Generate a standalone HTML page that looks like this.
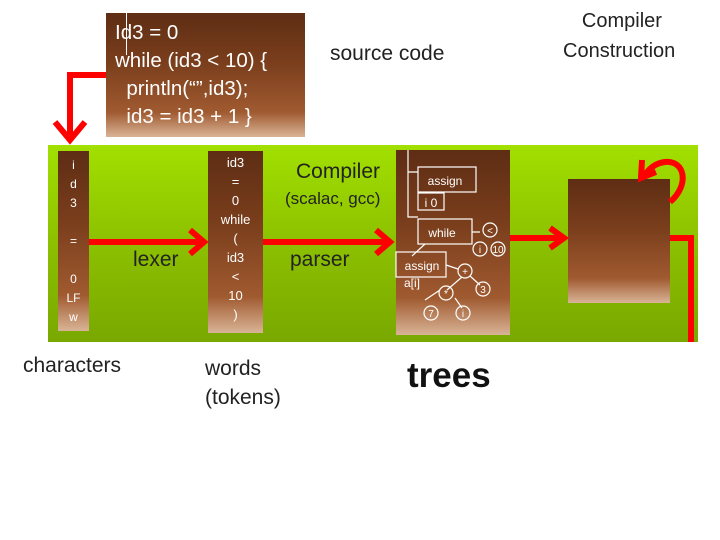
<!DOCTYPE html>
<html><head><style>
body{margin:0;width:720px;height:540px;background:#fff;position:relative;overflow:hidden;font-family:"Liberation Sans",sans-serif}
.a{position:absolute}
.br{background:linear-gradient(#5e2d14 0%,#7a3e1c 40%,#a05a30 80%,#d9b496 100%)}
.t{position:absolute;white-space:nowrap}
.w{color:#fff}
</style></head><body>
<div class="a" style="left:48px;top:145px;width:650px;height:197px;background:linear-gradient(#a2e000,#8cc000 50%,#79a800)"></div>
<div class="a br" style="left:106px;top:13px;width:199px;height:124px"></div>
<div class="t w" style="left:115px;top:19px;font-size:20.5px;line-height:28px">Id3 = 0<br>while (id3 &lt; 10) {<br>&nbsp;&nbsp;println(“”,id3);<br>&nbsp;&nbsp;id3 = id3 + 1 }</div>
<div class="a" style="left:126px;top:13px;width:1px;height:42px;background:#fff"></div>
<div class="t" style="left:330px;top:42px;font-size:21px;color:#222">source code</div>
<div class="t" style="left:563px;top:6px;font-size:20px;color:#222;text-align:center;line-height:30px">&nbsp;Compiler<br>Construction</div>
<div class="a br" style="left:58px;top:151px;width:31px;height:180px"></div>
<div class="t w" style="left:58px;top:156px;width:31px;text-align:center;font-size:12px;line-height:19px;white-space:normal">i<br>d<br>3<br><br>=<br><br>0<br>LF<br>w</div>
<div class="a br" style="left:208px;top:151px;width:55px;height:182px"></div>
<div class="t w" style="left:208px;top:153px;width:55px;text-align:center;font-size:13px;line-height:19px;white-space:normal">id3<br>=<br>0<br>while<br>(<br>id3<br>&lt;<br>10<br>)</div>
<div class="a br" style="left:396px;top:150px;width:114px;height:185px"></div>
<div class="a br" style="left:568px;top:179px;width:102px;height:124px"></div>
<div class="t" style="left:133px;top:248px;font-size:21px;color:#222">lexer</div>
<div class="t" style="left:290px;top:248px;font-size:21px;color:#222">parser</div>
<div class="t" style="left:296px;top:160px;font-size:21px;color:#222">Compiler</div>
<div class="t" style="left:285px;top:189px;font-size:17px;color:#222">(scalac, gcc)</div>
<div class="t" style="left:23px;top:354px;font-size:21px;color:#222">characters</div>
<div class="t" style="left:205px;top:354px;font-size:21px;color:#222;line-height:29px">words<br>(tokens)</div>
<div class="t" style="left:407px;top:356px;font-size:35px;font-weight:bold;color:#111">trees</div>
<svg class="a" style="left:0;top:0" width="720" height="540">
<g stroke="#f00" stroke-width="6" fill="none">
<path d="M106 75H70V135"/><path d="M55 122L70 140L85 122"/>
<path d="M89 242H200"/><path d="M190 230L204 242L190 254"/>
<path d="M263 242H386"/><path d="M376 230L390 242L376 254"/>
<path d="M510 238H561"/><path d="M550 228L564 238L550 248"/>
<path d="M670 238H691V342"/>
<path d="M670 202C690 185 685 160 665 162C655 163 648 170 644 176"/><path d="M642 160L641 178L656 172"/>
</g>
<g stroke="#fff" stroke-width="1.2" fill="none" font-family="Liberation Sans,sans-serif">
<path d="M408 150V217H418M408 172H418"/>
<rect x="418" y="167" width="58" height="25"/><rect x="418" y="193" width="26" height="17"/>
<rect x="418" y="219" width="54" height="25"/>
<path d="M472 232H480M425 244L412 256"/>
<circle cx="490" cy="230" r="7"/><circle cx="480" cy="249" r="7"/><circle cx="498" cy="249" r="7"/>
<rect x="396" y="252" width="50" height="25"/>
<path d="M446 265L458 269M462 277L447 290M470 276L480 285M425 300L440 290M455 298L462 308"/>
<circle cx="465" cy="271" r="7"/><circle cx="483" cy="289" r="7"/><circle cx="446" cy="293" r="7"/>
<circle cx="431" cy="313" r="7"/><circle cx="463" cy="313" r="7"/>
</g>
<g fill="#fff" font-family="Liberation Sans,sans-serif" font-size="12" text-anchor="middle">
<text x="445" y="185">assign</text><text x="431" y="207">i 0</text><text x="442" y="237">while</text>
<text x="422" y="270">assign</text><text x="412" y="287">a[i]</text>
<text x="490" y="234" font-size="10">&lt;</text><text x="480" y="253" font-size="10">i</text><text x="498" y="253" font-size="10">10</text>
<text x="465" y="275" font-size="10">+</text><text x="483" y="293" font-size="10">3</text><text x="446" y="297" font-size="10">*</text>
<text x="431" y="317" font-size="10">7</text><text x="463" y="317" font-size="10">i</text>
</g>
</svg>
</body></html>
